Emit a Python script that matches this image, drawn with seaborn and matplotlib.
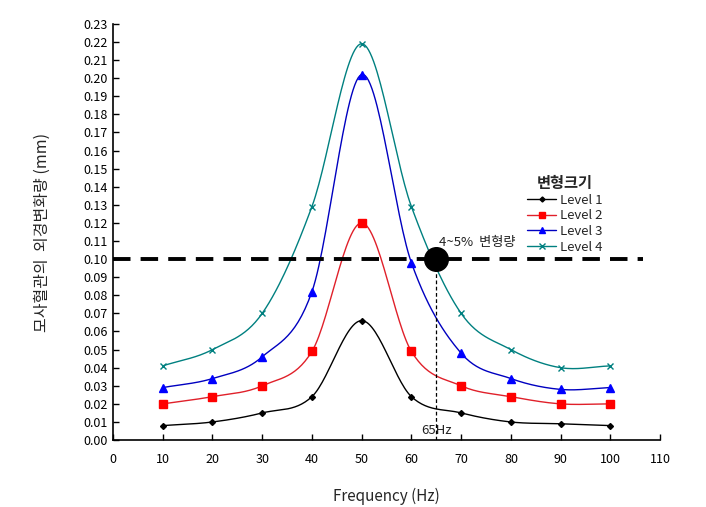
import numpy as np
import pandas as pd
import matplotlib
matplotlib.use("Agg")
import matplotlib.pyplot as plt
import seaborn as sns
from matplotlib.lines import Line2D

# Data
freq = [10, 20, 30, 40, 50, 60, 70, 80, 90, 100]
level1 = [0.008, 0.010, 0.015, 0.024, 0.066, 0.024, 0.015, 0.010, 0.009, 0.008]
level2 = [0.020, 0.024, 0.030, 0.049, 0.120, 0.049, 0.030, 0.024, 0.020, 0.020]
level3 = [0.029, 0.034, 0.046, 0.082, 0.202, 0.098, 0.048, 0.034, 0.028, 0.029]
level4 = [0.041, 0.050, 0.070, 0.129, 0.219, 0.129, 0.070, 0.050, 0.040, 0.041]
series_names = ["Level 1", "Level 2", "Level 3", "Level 4"]

threshold = 0.10
mark_freq = 65

# Styles
LINE_COLORS = ["#000000", "#e0202a", "#0000c0", "#008080"]
MARKER_COLORS = ["#000000", "#ff0000", "#0000ff", "#008080"]
MARKERS = ["D", "s", "^", "x"]
MSIZES = [3.0, 5.5, 5.5, 4.5]

sns.set_theme(style="white")
plt.rcParams['font.family'] = ['Noto Sans CJK KR', 'DejaVu Sans']
plt.rcParams['axes.unicode_minus'] = False


def smooth(x, y, n=30):
    """Catmull-Rom curve through the points (like Excel's smoothed line)"""
    x = np.asarray(x, float)
    y = np.asarray(y, float)
    px = np.concatenate([[2 * x[0] - x[1]], x, [2 * x[-1] - x[-2]]])
    py = np.concatenate([[2 * y[0] - y[1]], y, [2 * y[-1] - y[-2]]])
    t = np.linspace(0, 1, n)
    xs, ys = [], []
    for i in range(1, len(px) - 2):
        for p, out in ((px, xs), (py, ys)):
            p0, p1, p2, p3 = p[i - 1], p[i], p[i + 1], p[i + 2]
            out.extend(0.5 * ((2 * p1) + (-p0 + p2) * t
                              + (2 * p0 - 5 * p1 + 4 * p2 - p3) * t ** 2
                              + (-p0 + 3 * p1 - 3 * p2 + p3) * t ** 3))
    return np.array(xs), np.array(ys)


df = pd.DataFrame({"freq": freq, "Level 1": level1, "Level 2": level2,
                   "Level 3": level3, "Level 4": level4})
df_long = df.melt(id_vars="freq", var_name="level", value_name="value")

fig = plt.figure(figsize=(7.06, 5.07), dpi=100)
ax = fig.add_axes([0.160, 0.132, 0.775, 0.821])

for i, name in enumerate(series_names):
    sx, sy = smooth(df["freq"], df[name])
    ax.plot(sx, sy, color=LINE_COLORS[i], lw=1.0, zorder=2)
    sub = df_long[df_long["level"] == name]
    sns.lineplot(data=sub, x="freq", y="value", ax=ax, linestyle="",
                 marker=MARKERS[i], markersize=MSIZES[i],
                 color=MARKER_COLORS[i], markeredgecolor=MARKER_COLORS[i],
                 markeredgewidth=1.0, zorder=3, legend=False)

# threshold line + marker
ax.plot([0, 106.5], [threshold, threshold], color="black", lw=2.8,
        dashes=(4.5, 2.6), zorder=4, clip_on=False)
ax.plot([mark_freq, mark_freq], [0, threshold], color="black", lw=0.9,
        dashes=(3, 2), zorder=4)
ax.plot([mark_freq], [threshold], marker="o", markersize=17, color="black",
        zorder=5, clip_on=False)
ax.text(mark_freq + 0.5, threshold + 0.0055, "4~5%  변형량", fontsize=9.5,
        ha="left", va="bottom", color="#222222")
ax.text(mark_freq, 0.0015, "65Hz", fontsize=9.5, ha="center", va="bottom",
        color="#222222")

ax.set_xlim(0, 110)
ax.set_ylim(0, 0.23)
ax.set_xticks(np.arange(0, 111, 10))
ax.set_yticks(np.arange(0, 0.231, 0.01))
ax.set_yticklabels([f"{v:.2f}" for v in np.arange(0, 0.231, 0.01)])
ax.tick_params(direction="in", length=4, width=1, labelsize=9,
               color="black", labelcolor="black", left=True, bottom=True)
ax.tick_params(axis="x", pad=9)
for s in ["top", "right"]:
    ax.spines[s].set_visible(False)
for s in ["left", "bottom"]:
    ax.spines[s].set_color("black")
    ax.spines[s].set_linewidth(1.2)

ax.set_xlabel("Frequency (Hz)", fontsize=11, labelpad=16)
ax.set_ylabel("모사혈관의  외경변화량 (mm)", fontsize=11.5, labelpad=24)

handles = [Line2D([0], [0], color=LINE_COLORS[i], lw=1.0, marker=MARKERS[i],
                  markersize=MSIZES[i] * 0.85, markerfacecolor=MARKER_COLORS[i],
                  markeredgecolor=MARKER_COLORS[i])
           for i in range(4)]
leg = ax.legend(handles, series_names, title="변형크기", frameon=False,
                loc="upper left", bbox_to_anchor=(0.735, 0.665), fontsize=9.5,
                handlelength=2.2, handletextpad=0.3, labelspacing=0.2)
leg.get_title().set_fontweight("bold")
leg.get_title().set_fontsize(11)

fig.savefig("out.png", dpi=100)
